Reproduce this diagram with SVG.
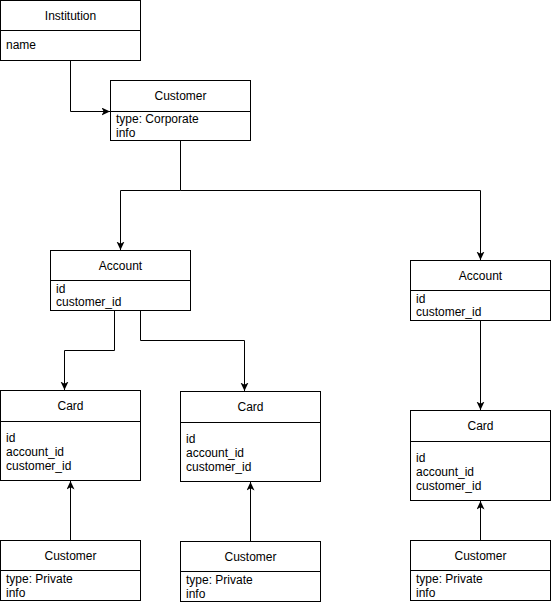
<svg xmlns="http://www.w3.org/2000/svg" width="551" height="602" viewBox="0 0 551 602">
<style>
.box{fill:#fff;stroke:#000;stroke-width:1}
.div{stroke:#000;stroke-width:1}
.t{font-family:"Liberation Sans",Arial,sans-serif;font-size:12px;fill:#000}
.h{text-anchor:middle}
.c{fill:none;stroke:#000;stroke-width:1}
</style>
<defs>
<marker id="arr" markerUnits="userSpaceOnUse" markerWidth="10" markerHeight="9" refX="8.5" refY="4" orient="auto">
<path d="M0,0 L8.5,4 L0,8 L2.2,4 Z" fill="#000"/>
</marker>
</defs>
<g id="connectors">
<path class="c" d="M70.5,60.5 V111.5 H110" marker-end="url(#arr)"/>
<path class="c" d="M180.5,140.5 V190.5 H120.5 V250" marker-end="url(#arr)"/>
<path class="c" d="M180.5,190.5 H480.5 V260" marker-end="url(#arr)"/>
<path class="c" d="M114.5,310.5 V350.5 H64.5 V390" marker-end="url(#arr)"/>
<path class="c" d="M140.5,310.5 V340.5 H244.5 V391" marker-end="url(#arr)"/>
<path class="c" d="M480.5,320.5 V410" marker-end="url(#arr)"/>
<path class="c" d="M70.5,540.5 V481" marker-end="url(#arr)"/>
<path class="c" d="M250.5,541.5 V482" marker-end="url(#arr)"/>
<path class="c" d="M480.5,540.5 V501" marker-end="url(#arr)"/>
</g>
<g id="institution">
<rect class="box" x="0.5" y="0.5" width="140" height="60"/>
<line class="div" x1="0.5" y1="30.5" x2="140.5" y2="30.5"/>
<text class="t h" x="70.5" y="20">Institution</text>
<text class="t" x="6" y="49">name</text>
</g>
<g id="customer-corporate">
<rect class="box" x="110.5" y="80.5" width="140" height="60"/>
<line class="div" x1="110.5" y1="111.5" x2="250.5" y2="111.5"/>
<text class="t h" x="180.5" y="100">Customer</text>
<text class="t" x="116" y="123">type: Corporate</text>
<text class="t" x="116" y="137">info</text>
</g>
<g id="account-left">
<rect class="box" x="50.5" y="250.5" width="140" height="60"/>
<line class="div" x1="50.5" y1="280.5" x2="190.5" y2="280.5"/>
<text class="t h" x="120.5" y="270">Account</text>
<text class="t" x="56" y="293">id</text>
<text class="t" x="56" y="306">customer_id</text>
</g>
<g id="account-right">
<rect class="box" x="410.5" y="260.5" width="140" height="60"/>
<line class="div" x1="410.5" y1="290.5" x2="550.5" y2="290.5"/>
<text class="t h" x="480.5" y="280">Account</text>
<text class="t" x="416" y="303">id</text>
<text class="t" x="416" y="316">customer_id</text>
</g>
<g id="card-1">
<rect class="box" x="0.5" y="390.5" width="140" height="90"/>
<line class="div" x1="0.5" y1="421.5" x2="140.5" y2="421.5"/>
<text class="t h" x="70.5" y="410">Card</text>
<text class="t" x="6" y="442">id</text>
<text class="t" x="6" y="456">account_id</text>
<text class="t" x="6" y="470">customer_id</text>
</g>
<g id="card-2">
<rect class="box" x="180.5" y="391.5" width="140" height="90"/>
<line class="div" x1="180.5" y1="422.5" x2="320.5" y2="422.5"/>
<text class="t h" x="250.5" y="411">Card</text>
<text class="t" x="186" y="443">id</text>
<text class="t" x="186" y="457">account_id</text>
<text class="t" x="186" y="471">customer_id</text>
</g>
<g id="card-3">
<rect class="box" x="410.5" y="410.5" width="140" height="90"/>
<line class="div" x1="410.5" y1="441.5" x2="550.5" y2="441.5"/>
<text class="t h" x="480.5" y="430">Card</text>
<text class="t" x="416" y="462">id</text>
<text class="t" x="416" y="476">account_id</text>
<text class="t" x="416" y="490">customer_id</text>
</g>
<g id="customer-private-1">
<rect class="box" x="0.5" y="540.5" width="140" height="60"/>
<line class="div" x1="0.5" y1="570.5" x2="140.5" y2="570.5"/>
<text class="t h" x="70.5" y="560">Customer</text>
<text class="t" x="6" y="583">type: Private</text>
<text class="t" x="6" y="597">info</text>
</g>
<g id="customer-private-2">
<rect class="box" x="180.5" y="541.5" width="140" height="60"/>
<line class="div" x1="180.5" y1="571.5" x2="320.5" y2="571.5"/>
<text class="t h" x="250.5" y="561">Customer</text>
<text class="t" x="186" y="584">type: Private</text>
<text class="t" x="186" y="598">info</text>
</g>
<g id="customer-private-3">
<rect class="box" x="410.5" y="540.5" width="140" height="60"/>
<line class="div" x1="410.5" y1="570.5" x2="550.5" y2="570.5"/>
<text class="t h" x="480.5" y="560">Customer</text>
<text class="t" x="416" y="583">type: Private</text>
<text class="t" x="416" y="597">info</text>
</g>
</svg>
